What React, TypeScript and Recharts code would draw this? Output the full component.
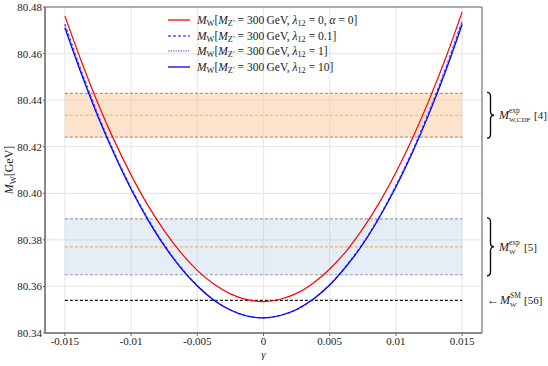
import {
  LineChart,
  Line,
  XAxis,
  YAxis,
  CartesianGrid,
  ReferenceArea,
  ReferenceLine,
  Legend,
} from 'recharts';

// gamma grid (x) and M_W curves
const gamma = [
  -0.015, -0.01375, -0.0125, -0.01125, -0.01, -0.00875, -0.0075, -0.00625, -0.005, -0.00375, -0.0025, -0.00125,
  0, 0.00125, 0.0025, 0.00375, 0.005, 0.00625, 0.0075, 0.00875, 0.01, 0.01125, 0.0125, 0.01375, 0.015,
];
const mwAlpha0 = [
  80.4762, 80.4566, 80.4386, 80.4224, 80.4079, 80.395, 80.384, 80.3746, 80.3669, 80.361, 80.3568, 80.3543,
  80.3535, 80.3545, 80.357, 80.3614, 80.3675, 80.3752, 80.3848, 80.396, 80.4089, 80.4236, 80.44, 80.458, 80.4778,
];
const mwLam01 = [
  80.4726, 80.4525, 80.4339, 80.4173, 80.4024, 80.3893, 80.3779, 80.3683, 80.3604, 80.3542, 80.3499, 80.3473,
  80.3465, 80.3475, 80.3501, 80.3546, 80.3608, 80.3689, 80.3785, 80.3901, 80.4034, 80.4183, 80.4351, 80.4537, 80.474,
];
const mwLam1 = [
  80.4719, 80.4519, 80.4335, 80.417, 80.4021, 80.3891, 80.3777, 80.3681, 80.3603, 80.3542, 80.3499, 80.3473,
  80.3465, 80.3475, 80.3501, 80.3546, 80.3607, 80.3687, 80.3783, 80.3899, 80.4031, 80.418, 80.4347, 80.4531, 80.4733,
];
const mwLam10 = [
  80.4711, 80.4512, 80.4329, 80.4165, 80.4017, 80.3888, 80.3775, 80.368, 80.3602, 80.3541, 80.3499, 80.3473,
  80.3465, 80.3475, 80.3501, 80.3545, 80.3606, 80.3686, 80.3781, 80.3896, 80.4027, 80.4175, 80.4341, 80.4524, 80.4725,
];

// measurements: [low, central, high]
const cdfBand = [80.4241, 80.4335, 80.4429];
const pdgBand = [80.365, 80.377, 80.389];
const smValue = 80.354;
const bandRange = [-0.015, 0.015];

const xTicks = [-0.015, -0.01, -0.005, 0, 0.005, 0.01, 0.015];
const yTicks = [80.34, 80.36, 80.38, 80.4, 80.42, 80.44, 80.46, 80.48];

const rows = gamma.map((g, i) => ({
  g,
  a0: mwAlpha0[i],
  l01: mwLam01[i],
  l1: mwLam1[i],
  l10: mwLam10[i],
}));

const FONT = "'Liberation Serif', 'DejaVu Serif', serif";
const TXT = '#222';

const legendItems = [
  { color: '#ff0000', dash: undefined, width: 1.3, lam: '0', alpha: true },
  { color: '#0000ff', dash: '3 2', width: 1.1, lam: '0.1', alpha: false },
  { color: '#a9a9f5', dash: '1.5 1', width: 2, lam: '1', alpha: false },
  { color: '#0000ff', dash: undefined, width: 1.3, lam: '10', alpha: false },
];

const sub = (s: string) => (
  <span style={{ fontSize: '0.72em', verticalAlign: '-0.3em', lineHeight: 0 }}>{s}</span>
);

function LegendBox() {
  return (
    <div style={{ fontFamily: FONT, fontSize: 11.5, color: TXT }}>
      {legendItems.map((it, i) => (
        <div key={i} style={{ display: 'flex', alignItems: 'center', height: 15.7, whiteSpace: 'nowrap' }}>
          <svg width={22} height={6} style={{ marginRight: 7 }}>
            <line x1={0} y1={3} x2={22} y2={3} stroke={it.color} strokeWidth={it.width} strokeDasharray={it.dash} />
          </svg>
          <span>
            <i>M</i>{sub('W')}[<i>M</i>{sub('Z′')} = 300{'\u2009'}GeV, <i>λ</i>{sub('12')} = {it.lam}
            {it.alpha ? <>, <i>α</i> = 0</> : null}]
          </span>
        </div>
      ))}
    </div>
  );
}

function XTick(props: any) {
  const { x, y, payload } = props;
  return (
    <text x={x} y={y + 7} textAnchor="middle" fill={TXT} fontSize={11} style={{ fontFamily: FONT }}>
      {String(payload.value)}
    </text>
  );
}

function YTick(props: any) {
  const { x, y, payload } = props;
  return (
    <text x={x} y={y + 4} textAnchor="end" fill={TXT} fontSize={11} style={{ fontFamily: FONT }}>
      {Number(payload.value).toFixed(2)}
    </text>
  );
}

function Brace({ x, y1, y2, w }: { x: number; y1: number; y2: number; w: number }) {
  const m = (y1 + y2) / 2;
  const h = x + w / 2;
  const q = 4;
  const d = `M${x},${y1} Q${h},${y1} ${h},${y1 + q} L${h},${m - q} Q${h},${m} ${x + w},${m} Q${h},${m} ${h},${m + q} L${h},${y2 - q} Q${h},${y2} ${x},${y2}`;
  return <path d={d} fill="none" stroke="#111" strokeWidth={1.4} />;
}

function BraceLabel(props: any) {
  const vb = props.viewBox;
  if (!vb) return null;
  const right = vb.x + vb.width;
  const bx = right + 5;
  const cy = vb.y + vb.height / 2;
  const tx = bx + 12;
  return (
    <g fill={TXT} style={{ fontFamily: FONT }}>
      <Brace x={bx} y1={vb.y - 1} y2={vb.y + vb.height + 1} w={7} />
      <text x={tx} y={cy + 4} fontSize={12} fontStyle="italic">M</text>
      <text x={tx + 10} y={cy - 2} fontSize={7.5}>exp</text>
      <text x={tx + 10} y={cy + 7} fontSize={7}>{props.subText}</text>
      <text x={tx + props.refOffset} y={cy + 4} fontSize={11}>{props.refText}</text>
    </g>
  );
}

function SmLabel(props: any) {
  const vb = props.viewBox;
  if (!vb) return null;
  const right = vb.x + vb.width;
  const cy = vb.y;
  const tx = right + 5;
  return (
    <g fill={TXT} style={{ fontFamily: FONT }}>
      <text x={tx} y={cy + 4} fontSize={12}>←</text>
      <text x={tx + 13} y={cy + 4} fontSize={12} fontStyle="italic">M</text>
      <text x={tx + 23} y={cy - 2} fontSize={7.5}>SM</text>
      <text x={tx + 23} y={cy + 7} fontSize={7}>W</text>
      <text x={tx + 37} y={cy + 4} fontSize={11}>[56]</text>
    </g>
  );
}

function YLabel(props: any) {
  const vb = props.viewBox;
  if (!vb) return null;
  const cx = 13;
  const cy = vb.y + vb.height / 2;
  return (
    <text x={cx} y={cy} transform={`rotate(-90, ${cx}, ${cy})`} textAnchor="middle" fontSize={12} fill={TXT} style={{ fontFamily: FONT }}>
      <tspan fontStyle="italic">M</tspan>
      <tspan fontSize={8.5} dy={3}>W</tspan>
      <tspan dy={-3}>[GeV]</tspan>
    </text>
  );
}

function XLabel(props: any) {
  const vb = props.viewBox;
  if (!vb) return null;
  return (
    <text x={vb.x + vb.width / 2} y={358} textAnchor="middle" fontSize={11} fontStyle="italic" fill={TXT} style={{ fontFamily: FONT }}>
      γ
    </text>
  );
}

const seg = (y: number) => [
  { x: bandRange[0], y },
  { x: bandRange[1], y },
];

export default function App() {
  return (
    <div style={{ position: 'absolute', left: 0, top: 0, width: 548, height: 366, background: '#fff', fontFamily: FONT }}>
      <LineChart width={548} height={366} data={rows} margin={{ top: 7, right: 66, bottom: 0, left: 0 }}>
        <CartesianGrid stroke="#e8e8e8" strokeWidth={1.2} />
        <XAxis
          dataKey="g"
          type="number"
          domain={[-0.0165, 0.0165]}
          ticks={xTicks}
          allowDataOverflow
          height={33}
          tickSize={3}
          tickMargin={2}
          stroke="#666"
          tick={<XTick />}
          interval={0}
          label={<XLabel />}
        />
        <YAxis
          type="number"
          domain={[80.34, 80.48]}
          ticks={yTicks}
          allowDataOverflow
          width={45}
          tickSize={2}
          tickMargin={1}
          stroke="#666"
          tick={<YTick />}
          interval={0}
          label={<YLabel />}
        />

        {/* measurement bands */}
        <ReferenceArea x1={bandRange[0]} x2={bandRange[1]} y1={cdfBand[0]} y2={cdfBand[2]} fill="#fbc89a" fillOpacity={0.5} stroke="none" />
        <ReferenceArea x1={bandRange[0]} x2={bandRange[1]} y1={pdgBand[0]} y2={pdgBand[2]} fill="#a9c5e3" fillOpacity={0.3} stroke="none" />
        <ReferenceLine segment={seg(cdfBand[0])} stroke="#999" strokeDasharray="3 2" strokeWidth={1.1} />
        <ReferenceLine segment={seg(cdfBand[2])} stroke="#999" strokeDasharray="3 2" strokeWidth={1.1} />
        <ReferenceLine segment={seg(cdfBand[1])} stroke="#f7b24a" strokeDasharray="3 2" strokeWidth={1.1} />
        <ReferenceLine segment={seg(pdgBand[0])} stroke="#999" strokeDasharray="3 2" strokeWidth={1.1} />
        <ReferenceLine segment={seg(pdgBand[2])} stroke="#999" strokeDasharray="3 2" strokeWidth={1.1} />
        <ReferenceLine segment={seg(pdgBand[1])} stroke="#f7b24a" strokeDasharray="3 2" strokeWidth={1.1} />
        <ReferenceLine segment={seg(smValue)} stroke="#111" strokeDasharray="3 2" strokeWidth={1.1} />

        {/* annotations outside the axes */}
        <ReferenceArea y1={cdfBand[0]} y2={cdfBand[2]} fill="none" stroke="none" label={<BraceLabel subText="W,CDF" refText="[4]" refOffset={35} />} />
        <ReferenceArea y1={pdgBand[0]} y2={pdgBand[2]} fill="none" stroke="none" label={<BraceLabel subText="W" refText="[5]" refOffset={25} />} />
        <ReferenceLine y={smValue} stroke="none" label={<SmLabel />} />

        <Line type="monotone" dataKey="a0" stroke="#ff0000" strokeWidth={1.2} dot={false} isAnimationActive={false} />
        <Line type="monotone" dataKey="l01" stroke="#0000ff" strokeWidth={1.1} strokeDasharray="3 2" dot={false} isAnimationActive={false} />
        <Line type="monotone" dataKey="l1" stroke="#a9a9f5" strokeWidth={1.6} strokeDasharray="1.5 1" dot={false} isAnimationActive={false} />
        <Line type="monotone" dataKey="l10" stroke="#0000ff" strokeWidth={1.2} dot={false} isAnimationActive={false} />

        {/* axes frame */}
        <ReferenceArea y1={80.34} y2={80.48} fill="none" stroke="#666" strokeWidth={1} />

        <Legend
          layout="horizontal"
          verticalAlign="middle"
          content={<LegendBox />}
          wrapperStyle={{ position: 'absolute', top: 12, left: 168, width: 'auto' }}
        />
      </LineChart>
    </div>
  );
}
